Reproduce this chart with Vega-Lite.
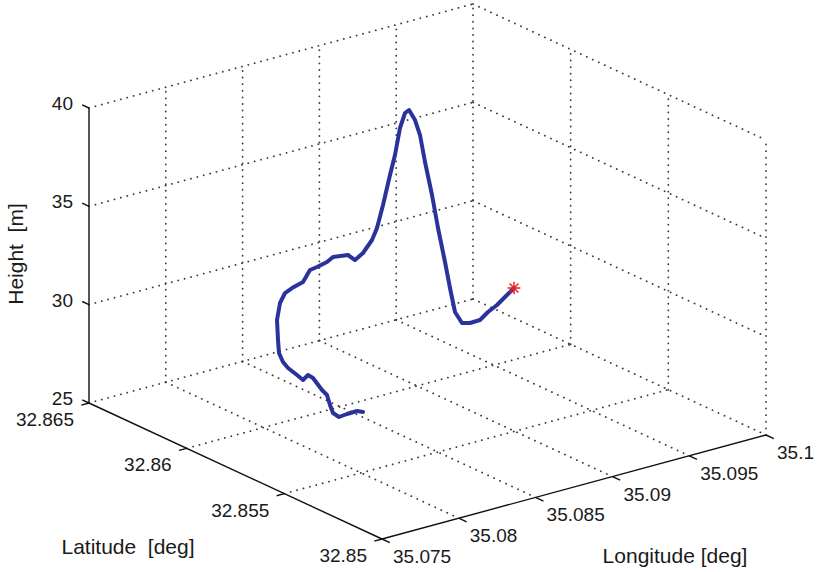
{
  "$schema": "https://vega.github.io/schema/vega-lite/v6.json",
  "width": 818,
  "height": 572,
  "autosize": "none",
  "padding": 0,
  "background": "white",
  "config": {"view": {"stroke": null}, "text": {"font": "Liberation Sans", "color": "#1a1a1a"}},
  "datasets": {
    "segments": [
      {"kind": "grid", "lat1": 32.865, "lon1": 35.075, "h1": 25, "lat2": 32.865, "lon2": 35.1, "h2": 25},
      {"kind": "grid", "lat1": 32.865, "lon1": 35.075, "h1": 30, "lat2": 32.865, "lon2": 35.1, "h2": 30},
      {"kind": "grid", "lat1": 32.865, "lon1": 35.075, "h1": 35, "lat2": 32.865, "lon2": 35.1, "h2": 35},
      {"kind": "grid", "lat1": 32.865, "lon1": 35.075, "h1": 40, "lat2": 32.865, "lon2": 35.1, "h2": 40},
      {"kind": "grid", "lat1": 32.865, "lon1": 35.08, "h1": 25, "lat2": 32.865, "lon2": 35.08, "h2": 40},
      {"kind": "grid", "lat1": 32.865, "lon1": 35.085, "h1": 25, "lat2": 32.865, "lon2": 35.085, "h2": 40},
      {"kind": "grid", "lat1": 32.865, "lon1": 35.09, "h1": 25, "lat2": 32.865, "lon2": 35.09, "h2": 40},
      {"kind": "grid", "lat1": 32.865, "lon1": 35.095, "h1": 25, "lat2": 32.865, "lon2": 35.095, "h2": 40},
      {"kind": "grid", "lat1": 32.865, "lon1": 35.1, "h1": 25, "lat2": 32.865, "lon2": 35.1, "h2": 40},
      {"kind": "grid", "lat1": 32.865, "lon1": 35.1, "h1": 25, "lat2": 32.85, "lon2": 35.1, "h2": 25},
      {"kind": "grid", "lat1": 32.865, "lon1": 35.1, "h1": 30, "lat2": 32.85, "lon2": 35.1, "h2": 30},
      {"kind": "grid", "lat1": 32.865, "lon1": 35.1, "h1": 35, "lat2": 32.85, "lon2": 35.1, "h2": 35},
      {"kind": "grid", "lat1": 32.865, "lon1": 35.1, "h1": 40, "lat2": 32.85, "lon2": 35.1, "h2": 40},
      {"kind": "grid", "lat1": 32.86, "lon1": 35.1, "h1": 25, "lat2": 32.86, "lon2": 35.1, "h2": 40},
      {"kind": "grid", "lat1": 32.855, "lon1": 35.1, "h1": 25, "lat2": 32.855, "lon2": 35.1, "h2": 40},
      {"kind": "grid", "lat1": 32.85, "lon1": 35.1, "h1": 25, "lat2": 32.85, "lon2": 35.1, "h2": 40},
      {"kind": "grid", "lat1": 32.86, "lon1": 35.075, "h1": 25, "lat2": 32.86, "lon2": 35.1, "h2": 25},
      {"kind": "grid", "lat1": 32.855, "lon1": 35.075, "h1": 25, "lat2": 32.855, "lon2": 35.1, "h2": 25},
      {"kind": "grid", "lat1": 32.865, "lon1": 35.08, "h1": 25, "lat2": 32.85, "lon2": 35.08, "h2": 25},
      {"kind": "grid", "lat1": 32.865, "lon1": 35.085, "h1": 25, "lat2": 32.85, "lon2": 35.085, "h2": 25},
      {"kind": "grid", "lat1": 32.865, "lon1": 35.09, "h1": 25, "lat2": 32.85, "lon2": 35.09, "h2": 25},
      {"kind": "grid", "lat1": 32.865, "lon1": 35.095, "h1": 25, "lat2": 32.85, "lon2": 35.095, "h2": 25},
      {"kind": "axis", "lat1": 32.865, "lon1": 35.075, "h1": 25, "lat2": 32.865, "lon2": 35.075, "h2": 40},
      {"kind": "axis", "lat1": 32.865, "lon1": 35.075, "h1": 25, "lat2": 32.85, "lon2": 35.075, "h2": 25},
      {"kind": "axis", "lat1": 32.85, "lon1": 35.075, "h1": 25, "lat2": 32.85, "lon2": 35.1, "h2": 25},
      {"kind": "axis", "lat1": 32.865, "lon1": 35.075, "h1": 25, "lat2": 32.86535, "lon2": 35.075, "h2": 25},
      {"kind": "axis", "lat1": 32.865, "lon1": 35.075, "h1": 30, "lat2": 32.86535, "lon2": 35.075, "h2": 30},
      {"kind": "axis", "lat1": 32.865, "lon1": 35.075, "h1": 35, "lat2": 32.86535, "lon2": 35.075, "h2": 35},
      {"kind": "axis", "lat1": 32.865, "lon1": 35.075, "h1": 40, "lat2": 32.86535, "lon2": 35.075, "h2": 40},
      {"kind": "axis", "lat1": 32.865, "lon1": 35.075, "h1": 25, "lat2": 32.865, "lon2": 35.0745, "h2": 25},
      {"kind": "axis", "lat1": 32.86, "lon1": 35.075, "h1": 25, "lat2": 32.86, "lon2": 35.0745, "h2": 25},
      {"kind": "axis", "lat1": 32.855, "lon1": 35.075, "h1": 25, "lat2": 32.855, "lon2": 35.0745, "h2": 25},
      {"kind": "axis", "lat1": 32.85, "lon1": 35.075, "h1": 25, "lat2": 32.85, "lon2": 35.0745, "h2": 25},
      {"kind": "axis", "lat1": 32.85, "lon1": 35.075, "h1": 25, "lat2": 32.8496, "lon2": 35.075, "h2": 25},
      {"kind": "axis", "lat1": 32.85, "lon1": 35.08, "h1": 25, "lat2": 32.8496, "lon2": 35.08, "h2": 25},
      {"kind": "axis", "lat1": 32.85, "lon1": 35.085, "h1": 25, "lat2": 32.8496, "lon2": 35.085, "h2": 25},
      {"kind": "axis", "lat1": 32.85, "lon1": 35.09, "h1": 25, "lat2": 32.8496, "lon2": 35.09, "h2": 25},
      {"kind": "axis", "lat1": 32.85, "lon1": 35.095, "h1": 25, "lat2": 32.8496, "lon2": 35.095, "h2": 25},
      {"kind": "axis", "lat1": 32.85, "lon1": 35.1, "h1": 25, "lat2": 32.8496, "lon2": 35.1, "h2": 25}
    ],
    "path": [
      {"i": 1, "lat": 32.856465, "lon": 35.081984, "h": 27.0},
      {"i": 2, "lat": 32.856647, "lon": 35.081826, "h": 27.0},
      {"i": 3, "lat": 32.856353, "lon": 35.080801, "h": 27.2},
      {"i": 4, "lat": 32.856021, "lon": 35.079858, "h": 27.4},
      {"i": 5, "lat": 32.856139, "lon": 35.079617, "h": 27.6},
      {"i": 6, "lat": 32.856479, "lon": 35.079854, "h": 27.8},
      {"i": 7, "lat": 32.856958, "lon": 35.080268, "h": 28.0},
      {"i": 8, "lat": 32.857127, "lon": 35.080157, "h": 28.2},
      {"i": 9, "lat": 32.857721, "lon": 35.080327, "h": 28.5},
      {"i": 10, "lat": 32.857887, "lon": 35.080213, "h": 28.6},
      {"i": 11, "lat": 32.857496, "lon": 35.07939, "h": 28.7},
      {"i": 12, "lat": 32.857684, "lon": 35.079238, "h": 28.9},
      {"i": 13, "lat": 32.858067, "lon": 35.07914, "h": 29.1},
      {"i": 14, "lat": 32.858306, "lon": 35.079117, "h": 29.3},
      {"i": 15, "lat": 32.858734, "lon": 35.079402, "h": 29.5},
      {"i": 16, "lat": 32.859247, "lon": 35.079989, "h": 29.8},
      {"i": 17, "lat": 32.860111, "lon": 35.081023, "h": 30.2},
      {"i": 18, "lat": 32.860691, "lon": 35.081955, "h": 30.6},
      {"i": 19, "lat": 32.860745, "lon": 35.08235, "h": 31.0},
      {"i": 20, "lat": 32.86055, "lon": 35.082558, "h": 31.3},
      {"i": 21, "lat": 32.86035, "lon": 35.083019, "h": 31.6},
      {"i": 22, "lat": 32.860506, "lon": 35.083673, "h": 32.0},
      {"i": 23, "lat": 32.860309, "lon": 35.083878, "h": 32.2},
      {"i": 24, "lat": 32.860194, "lon": 35.084384, "h": 32.4},
      {"i": 25, "lat": 32.860155, "lon": 35.084725, "h": 32.6},
      {"i": 26, "lat": 32.859738, "lon": 35.08517, "h": 32.8},
      {"i": 27, "lat": 32.858983, "lon": 35.084667, "h": 33.0},
      {"i": 28, "lat": 32.859046, "lon": 35.085267, "h": 33.2},
      {"i": 29, "lat": 32.859234, "lon": 35.086092, "h": 33.6},
      {"i": 30, "lat": 32.859427, "lon": 35.086663, "h": 34.0},
      {"i": 31, "lat": 32.860094, "lon": 35.087902, "h": 34.6},
      {"i": 32, "lat": 32.860956, "lon": 35.089454, "h": 35.4},
      {"i": 33, "lat": 32.861159, "lon": 35.090037, "h": 36.2},
      {"i": 34, "lat": 32.861575, "lon": 35.090892, "h": 37.2},
      {"i": 35, "lat": 32.861703, "lon": 35.091382, "h": 37.8},
      {"i": 36, "lat": 32.861563, "lon": 35.091463, "h": 38.0},
      {"i": 37, "lat": 32.861027, "lon": 35.091173, "h": 37.8},
      {"i": 38, "lat": 32.86071, "lon": 35.091095, "h": 37.2},
      {"i": 39, "lat": 32.860105, "lon": 35.090651, "h": 36.2},
      {"i": 40, "lat": 32.859318, "lon": 35.090106, "h": 35.0},
      {"i": 41, "lat": 32.858825, "lon": 35.089869, "h": 33.6},
      {"i": 42, "lat": 32.858105, "lon": 35.089409, "h": 32.3},
      {"i": 43, "lat": 32.857707, "lon": 35.089228, "h": 31.2},
      {"i": 44, "lat": 32.857311, "lon": 35.08905, "h": 30.2},
      {"i": 45, "lat": 32.857235, "lon": 35.089409, "h": 29.6},
      {"i": 46, "lat": 32.85722, "lon": 35.089912, "h": 29.5},
      {"i": 47, "lat": 32.857241, "lon": 35.090589, "h": 29.5},
      {"i": 48, "lat": 32.85751, "lon": 35.091452, "h": 29.6},
      {"i": 49, "lat": 32.857691, "lon": 35.092268, "h": 29.7},
      {"i": 50, "lat": 32.857925, "lon": 35.093216, "h": 29.9},
      {"i": 51, "lat": 32.858143, "lon": 35.09395, "h": 30.0}
    ],
    "ticklabels": [
      {"ax": "z", "lat": 32.865, "lon": 35.075, "h": 25, "t": "25"},
      {"ax": "z", "lat": 32.865, "lon": 35.075, "h": 30, "t": "30"},
      {"ax": "z", "lat": 32.865, "lon": 35.075, "h": 35, "t": "35"},
      {"ax": "z", "lat": 32.865, "lon": 35.075, "h": 40, "t": "40"},
      {"ax": "lat", "lat": 32.865, "lon": 35.075, "h": 25, "t": "32.865"},
      {"ax": "lat", "lat": 32.86, "lon": 35.075, "h": 25, "t": "32.86"},
      {"ax": "lat", "lat": 32.855, "lon": 35.075, "h": 25, "t": "32.855"},
      {"ax": "lat", "lat": 32.85, "lon": 35.075, "h": 25, "t": "32.85"},
      {"ax": "lon", "lat": 32.85, "lon": 35.075, "h": 25, "t": "35.075"},
      {"ax": "lon", "lat": 32.85, "lon": 35.08, "h": 25, "t": "35.08"},
      {"ax": "lon", "lat": 32.85, "lon": 35.085, "h": 25, "t": "35.085"},
      {"ax": "lon", "lat": 32.85, "lon": 35.09, "h": 25, "t": "35.09"},
      {"ax": "lon", "lat": 32.85, "lon": 35.095, "h": 25, "t": "35.095"},
      {"ax": "lon", "lat": 32.85, "lon": 35.1, "h": 25, "t": "35.1"}
    ],
    "titles": [
      {"lat": 32.854165, "lon": 35.06376, "h": 25, "t": "Latitude\u00a0 [deg]"},
      {"lat": 32.843219, "lon": 35.085453, "h": 25, "t": "Longitude [deg]"}
    ],
    "vtitles": [
      {"lat": 32.866463, "lon": 35.072172, "h": 32.5, "t": "Height\u00a0 [m]"}
    ]
  },
  "layer": [
    {
      "data": {"name": "segments"},
      "transform": [
        {"filter": "datum.kind == 'grid'"},
        {"calculate": "293*(32.865-datum.lat1)/0.015 + 384*(datum.lon1-35.075)/0.025", "as": "px1"},
        {"calculate": "136*(32.865-datum.lat1)/0.015 - 104*(datum.lon1-35.075)/0.025 - 295*(datum.h1-25)/15", "as": "py1"},
        {"calculate": "293*(32.865-datum.lat2)/0.015 + 384*(datum.lon2-35.075)/0.025", "as": "px2"},
        {"calculate": "136*(32.865-datum.lat2)/0.015 - 104*(datum.lon2-35.075)/0.025 - 295*(datum.h2-25)/15", "as": "py2"}
      ],
      "mark": {"type": "rule", "color": "#3a3a3a", "strokeWidth": 1.8, "strokeDash": [0.1, 6.5], "strokeCap": "round"},
      "encoding": {
        "x": {"field": "px1", "type": "quantitative", "scale": {"domain": [-89, 729], "nice": false, "zero": false}, "axis": null},
        "y": {"field": "py1", "type": "quantitative", "scale": {"domain": [-403, 169], "nice": false, "zero": false, "reverse": true}, "axis": null},
        "x2": {"field": "px2"},
        "y2": {"field": "py2"}
      }
    },
    {
      "data": {"name": "segments"},
      "transform": [
        {"filter": "datum.kind == 'axis'"},
        {"calculate": "293*(32.865-datum.lat1)/0.015 + 384*(datum.lon1-35.075)/0.025", "as": "px1"},
        {"calculate": "136*(32.865-datum.lat1)/0.015 - 104*(datum.lon1-35.075)/0.025 - 295*(datum.h1-25)/15", "as": "py1"},
        {"calculate": "293*(32.865-datum.lat2)/0.015 + 384*(datum.lon2-35.075)/0.025", "as": "px2"},
        {"calculate": "136*(32.865-datum.lat2)/0.015 - 104*(datum.lon2-35.075)/0.025 - 295*(datum.h2-25)/15", "as": "py2"}
      ],
      "mark": {"type": "rule", "color": "#111111", "strokeWidth": 1.4},
      "encoding": {
        "x": {"field": "px1", "type": "quantitative", "scale": {"domain": [-89, 729], "nice": false, "zero": false}, "axis": null},
        "y": {"field": "py1", "type": "quantitative", "scale": {"domain": [-403, 169], "nice": false, "zero": false, "reverse": true}, "axis": null},
        "x2": {"field": "px2"},
        "y2": {"field": "py2"}
      }
    },
    {
      "data": {"name": "path"},
      "transform": [
        {"calculate": "293*(32.865-datum.lat)/0.015 + 384*(datum.lon-35.075)/0.025", "as": "px"},
        {"calculate": "136*(32.865-datum.lat)/0.015 - 104*(datum.lon-35.075)/0.025 - 295*(datum.h-25)/15", "as": "py"}
      ],
      "mark": {"type": "line", "color": "#2a329c", "strokeWidth": 4, "strokeJoin": "round", "strokeCap": "round"},
      "encoding": {
        "x": {"field": "px", "type": "quantitative", "scale": {"domain": [-89, 729], "nice": false, "zero": false}, "axis": null},
        "y": {"field": "py", "type": "quantitative", "scale": {"domain": [-403, 169], "nice": false, "zero": false, "reverse": true}, "axis": null},
        "order": {"field": "i", "type": "quantitative"}
      }
    },
    {
      "data": {"name": "path"},
      "transform": [
        {"filter": "datum.i == 51"},
        {"calculate": "293*(32.865-datum.lat)/0.015 + 384*(datum.lon-35.075)/0.025", "as": "px"},
        {"calculate": "136*(32.865-datum.lat)/0.015 - 104*(datum.lon-35.075)/0.025 - 295*(datum.h-25)/15", "as": "py"}
      ],
      "mark": {"type": "point", "shape": "M-1,0L1,0M0,-1L0,1M-0.7,-0.7L0.7,0.7M-0.7,0.7L0.7,-0.7", "filled": false, "color": "#e8222a", "strokeWidth": 1.5, "size": 160, "opacity": 1},
      "encoding": {
        "x": {"field": "px", "type": "quantitative", "scale": {"domain": [-89, 729], "nice": false, "zero": false}, "axis": null},
        "y": {"field": "py", "type": "quantitative", "scale": {"domain": [-403, 169], "nice": false, "zero": false, "reverse": true}, "axis": null}
      }
    },
    {
      "data": {"name": "ticklabels"},
      "transform": [
        {"filter": "datum.ax == 'z'"},
        {"calculate": "293*(32.865-datum.lat)/0.015 + 384*(datum.lon-35.075)/0.025", "as": "px"},
        {"calculate": "136*(32.865-datum.lat)/0.015 - 104*(datum.lon-35.075)/0.025 - 295*(datum.h-25)/15", "as": "py"}
      ],
      "mark": {"type": "text", "align": "right", "baseline": "middle", "dx": -16, "dy": -4, "fontSize": 19},
      "encoding": {
        "x": {"field": "px", "type": "quantitative", "scale": {"domain": [-89, 729], "nice": false, "zero": false}, "axis": null},
        "y": {"field": "py", "type": "quantitative", "scale": {"domain": [-403, 169], "nice": false, "zero": false, "reverse": true}, "axis": null},
        "text": {"field": "t"}
      }
    },
    {
      "data": {"name": "ticklabels"},
      "transform": [
        {"filter": "datum.ax == 'lat'"},
        {"calculate": "293*(32.865-datum.lat)/0.015 + 384*(datum.lon-35.075)/0.025", "as": "px"},
        {"calculate": "136*(32.865-datum.lat)/0.015 - 104*(datum.lon-35.075)/0.025 - 295*(datum.h-25)/15", "as": "py"}
      ],
      "mark": {"type": "text", "align": "right", "baseline": "middle", "dx": -15, "dy": 17, "fontSize": 19},
      "encoding": {
        "x": {"field": "px", "type": "quantitative", "scale": {"domain": [-89, 729], "nice": false, "zero": false}, "axis": null},
        "y": {"field": "py", "type": "quantitative", "scale": {"domain": [-403, 169], "nice": false, "zero": false, "reverse": true}, "axis": null},
        "text": {"field": "t"}
      }
    },
    {
      "data": {"name": "ticklabels"},
      "transform": [
        {"filter": "datum.ax == 'lon'"},
        {"calculate": "293*(32.865-datum.lat)/0.015 + 384*(datum.lon-35.075)/0.025", "as": "px"},
        {"calculate": "136*(32.865-datum.lat)/0.015 - 104*(datum.lon-35.075)/0.025 - 295*(datum.h-25)/15", "as": "py"}
      ],
      "mark": {"type": "text", "align": "left", "baseline": "middle", "dx": 11, "dy": 18, "fontSize": 19},
      "encoding": {
        "x": {"field": "px", "type": "quantitative", "scale": {"domain": [-89, 729], "nice": false, "zero": false}, "axis": null},
        "y": {"field": "py", "type": "quantitative", "scale": {"domain": [-403, 169], "nice": false, "zero": false, "reverse": true}, "axis": null},
        "text": {"field": "t"}
      }
    },
    {
      "data": {"name": "titles"},
      "transform": [
        {"calculate": "293*(32.865-datum.lat)/0.015 + 384*(datum.lon-35.075)/0.025", "as": "px"},
        {"calculate": "136*(32.865-datum.lat)/0.015 - 104*(datum.lon-35.075)/0.025 - 295*(datum.h-25)/15", "as": "py"}
      ],
      "mark": {"type": "text", "align": "center", "baseline": "middle", "fontSize": 21},
      "encoding": {
        "x": {"field": "px", "type": "quantitative", "scale": {"domain": [-89, 729], "nice": false, "zero": false}, "axis": null},
        "y": {"field": "py", "type": "quantitative", "scale": {"domain": [-403, 169], "nice": false, "zero": false, "reverse": true}, "axis": null},
        "text": {"field": "t"}
      }
    },
    {
      "data": {"name": "vtitles"},
      "transform": [
        {"calculate": "293*(32.865-datum.lat)/0.015 + 384*(datum.lon-35.075)/0.025", "as": "px"},
        {"calculate": "136*(32.865-datum.lat)/0.015 - 104*(datum.lon-35.075)/0.025 - 295*(datum.h-25)/15", "as": "py"}
      ],
      "mark": {"type": "text", "align": "center", "baseline": "middle", "fontSize": 21, "angle": 270},
      "encoding": {
        "x": {"field": "px", "type": "quantitative", "scale": {"domain": [-89, 729], "nice": false, "zero": false}, "axis": null},
        "y": {"field": "py", "type": "quantitative", "scale": {"domain": [-403, 169], "nice": false, "zero": false, "reverse": true}, "axis": null},
        "text": {"field": "t"}
      }
    }
  ]
}
